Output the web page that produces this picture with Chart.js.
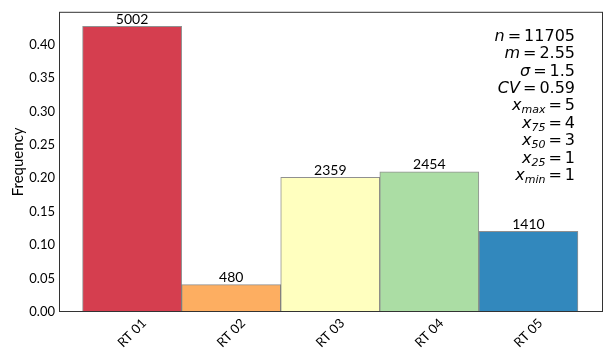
<!DOCTYPE html>
<html>
<head>
<meta charset="utf-8">
<script src="https://cdn.jsdelivr.net/npm/chart.js@4.4.0/dist/chart.umd.min.js"></script>
<style>
  html, body { margin: 0; padding: 0; background: #fff; }
  #wrap { width: 611px; height: 359px; }
</style>
</head>
<body>
<div id="wrap"><canvas id="freqChart" width="611" height="359"></canvas></div>
<script>
const categories = ['RT 01', 'RT 02', 'RT 03', 'RT 04', 'RT 05'];
const counts = [5002, 480, 2359, 2454, 1410];
const frequencies = [0.4273, 0.0410, 0.2015, 0.2097, 0.1205];
const barColors = ['#d53e4f', '#fdae61', '#ffffbf', '#abdda4', '#3288bd'];
const yTicks = [0, 0.05, 0.10, 0.15, 0.20, 0.25, 0.30, 0.35, 0.40];

// stats box lines: [main, subscript, value]
const statLines = [
    ['n', '', '11705'],
    ['m', '', '2.55'],
    ['σ', '', '1.5'],
    ['CV', '', '0.59'],
    ['x', 'max', '5'],
    ['x', '75', '4'],
    ['x', '50', '3'],
    ['x', '25', '1'],
    ['x', 'min', '1']
];

const FONT = 'Lato';
const MATH = 'DejaVu Sans';

// count labels above each bar
const barLabels = {
    id: 'barLabels',
    afterDatasetsDraw(chart) {
        const ctx = chart.ctx;
        const meta = chart.getDatasetMeta(0);
        ctx.save();
        ctx.font = '14px "' + FONT + '"';
        ctx.fillStyle = '#000';
        ctx.textAlign = 'center';
        ctx.textBaseline = 'bottom';
        meta.data.forEach((bar, i) => {
            ctx.fillText(String(counts[i]), bar.x, bar.y);
        });
        ctx.restore();
    }
};

// rotated category labels, centred under each tick
const xLabels = {
    id: 'xLabels',
    afterDraw(chart) {
        const ctx = chart.ctx;
        const xs = chart.scales.x;
        ctx.save();
        ctx.font = '13px "' + FONT + '"';
        ctx.fillStyle = '#000';
        ctx.textAlign = 'center';
        ctx.textBaseline = 'middle';
        categories.forEach((c, i) => {
            ctx.save();
            ctx.translate(xs.getPixelForValue(i), chart.chartArea.bottom + 21);
            ctx.rotate(-Math.PI / 4);
            ctx.fillText(c, 0, 0);
            ctx.restore();
        });
        ctx.restore();
    }
};

// box around plot area + stats text
const frameAndStats = {
    id: 'frameAndStats',
    afterDraw(chart) {
        const ctx = chart.ctx;
        const a = chart.chartArea;
        ctx.save();
        ctx.strokeStyle = '#333';
        ctx.lineWidth = 1;
        ctx.strokeRect(a.left + 0.5, a.top + 0.5, a.right - a.left - 1, a.bottom - a.top - 1);

        ctx.fillStyle = '#000';
        ctx.textBaseline = 'alphabetic';
        ctx.textAlign = 'left';
        const right = a.right - 28;
        const gap = 3;
        let y = a.top + 29;
        statLines.forEach(([main, sub, val]) => {
            const upright = '16px "' + MATH + '"';
            const italic = 'italic 16px "' + MATH + '"';
            const subFont = 'italic 11px "' + MATH + '"';
            ctx.font = upright;
            const wEq = ctx.measureText('=').width;
            const wVal = ctx.measureText(val).width;
            ctx.font = subFont;
            const wSub = sub ? ctx.measureText(sub).width : 0;
            ctx.font = italic;
            const wMain = ctx.measureText(main).width;
            let x = right - wVal - gap - wEq - gap - wSub - wMain;
            ctx.fillText(main, x, y);
            x += wMain;
            if (sub) {
                ctx.font = subFont;
                ctx.fillText(sub, x, y + 3);
                x += wSub;
            }
            ctx.font = upright;
            x += gap;
            ctx.fillText('=', x, y);
            x += wEq + gap;
            ctx.fillText(val, x, y);
            y += 17.4;
        });
        ctx.restore();
    }
};

const chartData = {
    datasets: [{
        label: 'Frequency',
        data: frequencies.map((f, i) => ({ x: i, y: f })),
        backgroundColor: barColors,
        borderColor: 'rgba(70, 70, 70, 0.6)',
        borderWidth: 1,
        barPercentage: 1.0,
        categoryPercentage: 1.0
    }]
};

const config = {
    type: 'bar',
    data: chartData,
    options: {
        responsive: false,
        animation: false,
        layout: { padding: { top: 10, right: 8, left: 0, bottom: 0 } },
        scales: {
            x: {
                type: 'linear',
                offset: false,
                min: -0.738,
                max: 4.753,
                grid: { display: false, drawTicks: false },
                border: { display: false },
                afterFit: s => { s.height = 47; },
                ticks: { display: false, includeBounds: false, stepSize: 1 }
            },
            y: {
                min: 0,
                max: 0.449,
                grid: { display: false, drawTicks: false },
                border: { display: false },
                afterFit: s => { s.width = 59; },
                afterBuildTicks: s => { s.ticks = yTicks.map(v => ({ value: v })); },
                title: {
                    display: true,
                    text: 'Frequency',
                    color: '#000',
                    font: { family: FONT, size: 15 },
                    padding: { top: 9, bottom: 0 }
                },
                ticks: {
                    padding: 4,
                    color: '#000',
                    font: { family: FONT, size: 13 },
                    callback: v => v.toFixed(2)
                }
            }
        },
        plugins: {
            legend: { display: false },
            tooltip: { enabled: false }
        }
    },
    plugins: [barLabels, xLabels, frameAndStats]
};

const ctx = document.getElementById('freqChart').getContext('2d');
const freqChart = new Chart(ctx, config);
</script>
</body>
</html>
